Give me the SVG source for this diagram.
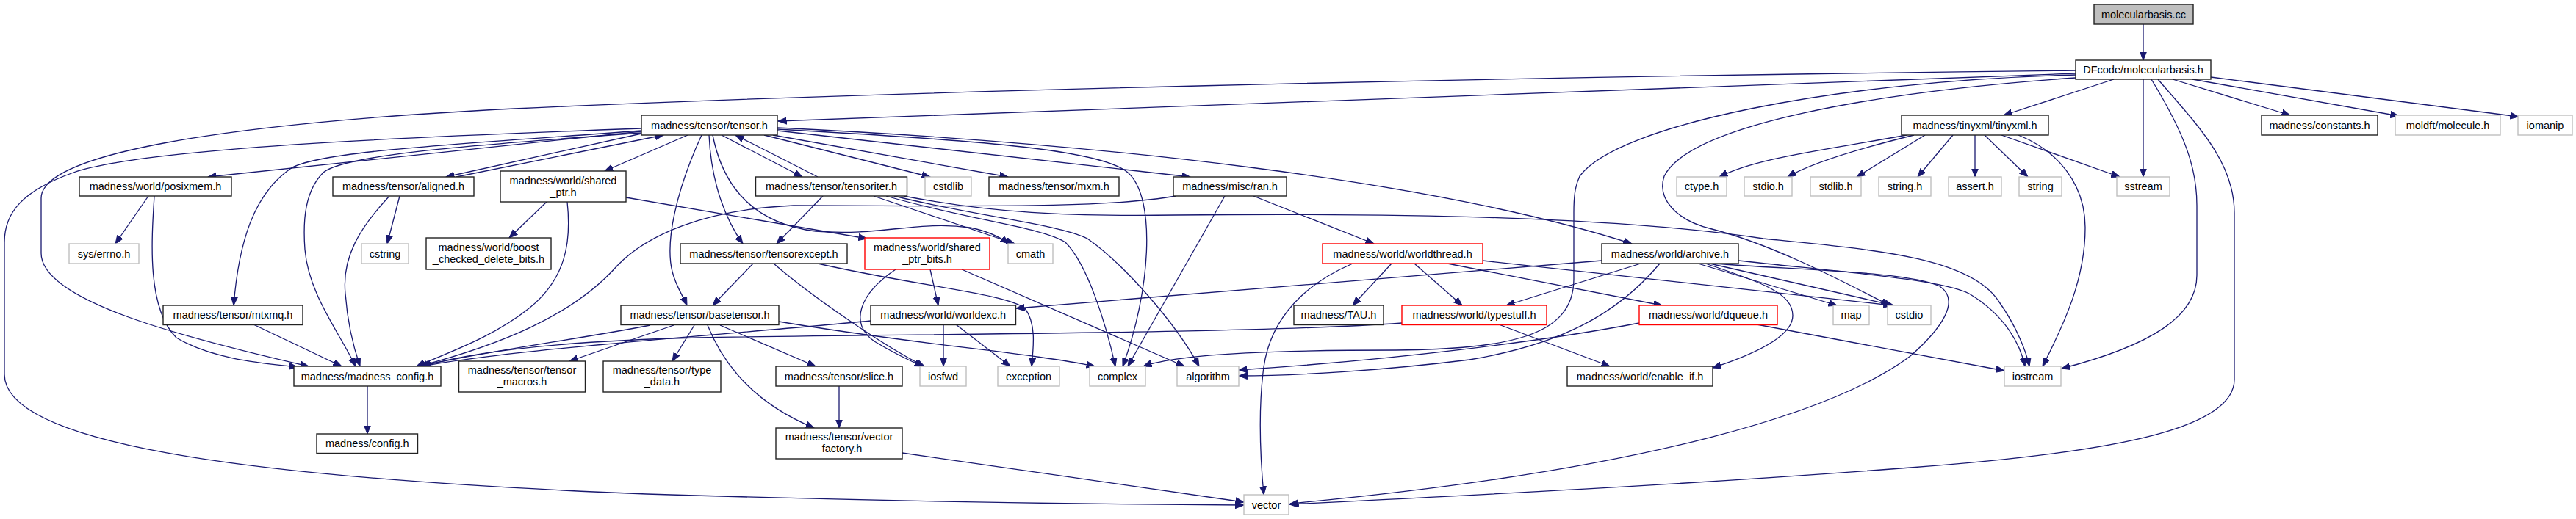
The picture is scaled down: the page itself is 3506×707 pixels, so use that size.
<svg xmlns="http://www.w3.org/2000/svg" width="3506" height="707" viewBox="0 0 3506 707">
<style>
rect{fill:#fff;stroke-width:1.4}
.nb rect{stroke:#222}
.ng rect{stroke:#bfbfbf}
.nr rect{stroke:#ff0000}
.root rect{fill:#bfbfbf;stroke:#222}
text{font-family:"Liberation Sans",Arial,sans-serif;font-size:14.5px;fill:#000;text-anchor:middle}
#edges path{fill:none;stroke:#191970;stroke-width:1.3;marker-end:url(#arr)}
</style>
<defs>
<marker id="arr" markerUnits="userSpaceOnUse" markerWidth="13" markerHeight="11" refX="11.5" refY="5" orient="auto">
<path d="M0,0.5 L11.5,5 L0,9.5 Z" fill="#191970" stroke="#191970" stroke-width="1"/>
</marker>
</defs>
<rect x="0" y="0" width="3506" height="707" style="fill:#fff;stroke:none"/>
<g id="edges">
<path d="M2917,33 L2917,82"/>
<path d="M2877,108 L2727,157"/>
<path d="M2917,108 L2917,241"/>
<path d="M2957,108 L3117,157"/>
<path d="M2984,108 L3265,158"/>
<path d="M3009,105 L3428,159"/>
<path d="M2928,108 C2975,185 2990,230 2990,280 L2990,375 C2990,430 2930,470 2806,502"/>
<path d="M2937,108 C2990,170 3041,220 3041,290 L3041,517 C3041,580 2900,615 2600,637 C2300,660 2000,675 1755,687"/>
<path d="M2825,100 L1059,165"/>
<path d="M2825,96 C2000,105 1200,125 700,148 C300,168 56,210 56,270 L56,345 C56,410 250,460 420,499"/>
<path d="M2825,102 C2500,110 2200,170 2150,240 C2143,255 2142,270 2142,290 L2142,380 C2142,460 2050,475 1900,477 C1760,477 1610,480 1556,499"/>
<path d="M2825,106 C2550,125 2300,170 2265,240 C2255,270 2280,300 2330,312 C2420,335 2520,390 2572,416"/>
<path d="M873,175 C600,185 200,200 100,235 C30,260 6,290 6,330 L6,510 C6,600 300,650 880,673 C1200,683 1500,687 1693,688"/>
<path d="M873,179 L283,241"/>
<path d="M873,182 L607,241"/>
<path d="M621,241 L903,184"/>
<path d="M936,184 L823,233"/>
<path d="M873,178 C650,195 430,205 395,230 C345,265 325,330 318,416"/>
<path d="M873,181 C650,197 470,210 440,235 C415,260 412,300 415,340 C420,400 460,450 484,499"/>
<path d="M982,184 L1092,241"/>
<path d="M1113,241 L1001,184"/>
<path d="M1040,184 L1266,241"/>
<path d="M1052,184 L1372,241"/>
<path d="M1058,178 L1620,241"/>
<path d="M1058,174 C1500,195 1950,245 2221,332"/>
<path d="M1058,176 C1350,192 1500,205 1535,235 C1575,270 1565,400 1528,499"/>
<path d="M965,184 C968,250 988,300 1011,332"/>
<path d="M955,184 C920,260 905,330 915,370 C920,390 928,400 935,416"/>
<path d="M970,184 C985,260 1030,305 1110,315 C1200,322 1250,300 1320,310 C1345,315 1360,322 1373,332"/>
<path d="M1120,267 L1057,332"/>
<path d="M1189,267 L1381,332"/>
<path d="M1206,267 C1320,300 1420,310 1450,330 C1480,360 1505,440 1518,499"/>
<path d="M1217,267 C1330,295 1440,305 1480,325 C1530,360 1600,440 1632,499"/>
<path d="M1230,267 C1350,290 1450,295 1600,293 C1900,290 2200,295 2400,325 C2550,340 2680,350 2720,410 C2745,445 2758,480 2762,499"/>
<path d="M1600,267 C1500,285 1300,280 1080,280 C960,285 880,320 840,362 C780,430 680,470 570,499"/>
<path d="M1667,267 L1535,499"/>
<path d="M1706,267 L1870,332"/>
<path d="M202,267 L157,332"/>
<path d="M210,267 C206,330 200,420 240,460 C290,490 360,495 405,500"/>
<path d="M544,267 L527,332"/>
<path d="M530,267 C490,310 465,350 470,400 C473,440 480,470 490,499"/>
<path d="M744,275 L693,324"/>
<path d="M772,275 C778,330 770,380 720,420 C670,460 610,480 567,499"/>
<path d="M852,269 L1180,325"/>
<path d="M1219,367 C1170,400 1155,440 1190,465 C1215,480 1235,490 1256,499"/>
<path d="M1266,367 L1277,416"/>
<path d="M1309,367 L1612,499"/>
<path d="M1025,359 L970,416"/>
<path d="M1053,359 C1100,400 1200,470 1258,499"/>
<path d="M1113,359 C1250,390 1370,400 1395,420 C1410,440 1407,470 1404,499"/>
<path d="M885,443 C800,460 650,480 572,499"/>
<path d="M917,443 L775,492"/>
<path d="M945,443 L915,492"/>
<path d="M963,443 C990,510 1040,555 1108,583"/>
<path d="M980,443 L1110,499"/>
<path d="M1060,438 C1250,470 1400,480 1490,499"/>
<path d="M1185,437 C1000,455 700,475 575,499"/>
<path d="M1284,442 L1284,499"/>
<path d="M1301,442 L1375,499"/>
<path d="M1894,359 L1841,416"/>
<path d="M1925,359 L1990,416"/>
<path d="M1970,359 L2262,416"/>
<path d="M2018,355 L2575,416"/>
<path d="M1841,359 C1780,385 1730,430 1720,500 C1712,560 1715,620 1720,674"/>
<path d="M1908,440 C1700,455 1200,455 950,460 C750,465 640,480 575,499"/>
<path d="M2040,442 L2191,499"/>
<path d="M2180,355 L1383,420"/>
<path d="M2233,359 L2050,416"/>
<path d="M2259,359 C2200,430 2120,470 2000,490 C1880,505 1760,512 1686,512"/>
<path d="M2311,359 L2500,416"/>
<path d="M2327,359 L2577,416"/>
<path d="M2321,359 C2400,385 2440,400 2440,430 C2440,460 2380,485 2331,501"/>
<path d="M2366,355 C2500,370 2640,380 2680,400 C2730,430 2750,470 2756,499"/>
<path d="M2332,359 C2450,368 2600,370 2640,390 C2670,410 2640,450 2600,485 C2500,560 2250,640 1756,686"/>
<path d="M2231,440 C2100,465 1900,490 1686,504"/>
<path d="M2391,442 L2728,505"/>
<path d="M2595,184 C2480,205 2390,215 2340,241"/>
<path d="M2605,184 C2520,205 2460,225 2433,241"/>
<path d="M2620,184 L2527,241"/>
<path d="M2658,184 L2610,241"/>
<path d="M2688,184 L2688,241"/>
<path d="M2701,184 L2760,241"/>
<path d="M2724,184 L2885,241"/>
<path d="M2747,184 C2800,205 2838,250 2838,310 C2838,380 2810,440 2780,499"/>
<path d="M345,442 L465,499"/>
<path d="M500,526 L500,591"/>
<path d="M1142,526 L1142,583"/>
<path d="M1228,617 L1693,684"/>
</g>
<g id="node-molecularbasis-cc" class="root"><rect x="2850" y="6" width="135" height="27"/><text x="2917.5" y="24.5">molecularbasis.cc</text></g>
<g id="node-dfcode" class="nb"><rect x="2825" y="82" width="184" height="26"/><text x="2917" y="100">DFcode/molecularbasis.h</text></g>
<g id="node-tensor" class="nb"><rect x="873" y="157" width="185" height="27"/><text x="965.5" y="175.5">madness/tensor/tensor.h</text></g>
<g id="node-tinyxml" class="nb"><rect x="2588" y="157" width="200" height="27"/><text x="2688" y="175.5">madness/tinyxml/tinyxml.h</text></g>
<g id="node-constants" class="nb"><rect x="3078" y="157" width="158" height="27"/><text x="3157" y="175.5">madness/constants.h</text></g>
<g id="node-molecule" class="ng"><rect x="3260" y="157" width="143" height="27"/><text x="3331.5" y="175.5">moldft/molecule.h</text></g>
<g id="node-iomanip" class="ng"><rect x="3427" y="157" width="74" height="27"/><text x="3464" y="175.5">iomanip</text></g>
<g id="node-posixmem" class="nb"><rect x="108" y="241" width="207" height="26"/><text x="211.5" y="259">madness/world/posixmem.h</text></g>
<g id="node-aligned" class="nb"><rect x="453" y="241" width="192" height="26"/><text x="549" y="259">madness/tensor/aligned.h</text></g>
<g id="node-shared-ptr" class="nb"><rect x="681" y="233" width="171" height="42"/><text x="766.5" y="250.5">madness/world/shared</text><text x="766.5" y="266.5">_ptr.h</text></g>
<g id="node-tensoriter" class="nb"><rect x="1028.5" y="241" width="206" height="26"/><text x="1131.5" y="259">madness/tensor/tensoriter.h</text></g>
<g id="node-cstdlib" class="ng"><rect x="1259" y="241" width="63" height="26"/><text x="1290.5" y="259">cstdlib</text></g>
<g id="node-mxm" class="nb"><rect x="1346" y="241" width="177" height="26"/><text x="1434.5" y="259">madness/tensor/mxm.h</text></g>
<g id="node-ran" class="nb"><rect x="1597" y="241" width="154" height="26"/><text x="1674" y="259">madness/misc/ran.h</text></g>
<g id="node-ctype" class="ng"><rect x="2282" y="241" width="68" height="26"/><text x="2316" y="259">ctype.h</text></g>
<g id="node-stdio" class="ng"><rect x="2374" y="241" width="65" height="26"/><text x="2406.5" y="259">stdio.h</text></g>
<g id="node-stdlib" class="ng"><rect x="2464" y="241" width="69" height="26"/><text x="2498.5" y="259">stdlib.h</text></g>
<g id="node-string-h" class="ng"><rect x="2557" y="241" width="71" height="26"/><text x="2592.5" y="259">string.h</text></g>
<g id="node-assert" class="ng"><rect x="2652" y="241" width="72" height="26"/><text x="2688" y="259">assert.h</text></g>
<g id="node-string" class="ng"><rect x="2748" y="241" width="58" height="26"/><text x="2777" y="259">string</text></g>
<g id="node-sstream" class="ng"><rect x="2881" y="241" width="72" height="26"/><text x="2917" y="259">sstream</text></g>
<g id="node-errno" class="ng"><rect x="94" y="332" width="95" height="27"/><text x="141.5" y="350.5">sys/errno.h</text></g>
<g id="node-cstring" class="ng"><rect x="492" y="332" width="64" height="27"/><text x="524" y="350.5">cstring</text></g>
<g id="node-boost" class="nb"><rect x="580" y="324" width="170" height="43"/><text x="665" y="342">madness/world/boost</text><text x="665" y="358">_checked_delete_bits.h</text></g>
<g id="node-tensorexcept" class="nb"><rect x="926" y="332" width="227" height="27"/><text x="1039.5" y="350.5">madness/tensor/tensorexcept.h</text></g>
<g id="node-shared-ptr-bits" class="nr"><rect x="1177" y="324" width="170" height="43"/><text x="1262" y="342">madness/world/shared</text><text x="1262" y="358">_ptr_bits.h</text></g>
<g id="node-cmath" class="ng"><rect x="1372" y="332" width="61" height="27"/><text x="1402.5" y="350.5">cmath</text></g>
<g id="node-worldthread" class="nr"><rect x="1800" y="332" width="218" height="27"/><text x="1909" y="350.5">madness/world/worldthread.h</text></g>
<g id="node-archive" class="nb"><rect x="2180" y="332" width="186" height="27"/><text x="2273" y="350.5">madness/world/archive.h</text></g>
<g id="node-mtxmq" class="nb"><rect x="222" y="416" width="190" height="26.5"/><text x="317" y="434">madness/tensor/mtxmq.h</text></g>
<g id="node-basetensor" class="nb"><rect x="845" y="416" width="215" height="26.5"/><text x="952.5" y="434">madness/tensor/basetensor.h</text></g>
<g id="node-worldexc" class="nb"><rect x="1185" y="416" width="197.5" height="26.5"/><text x="1283.75" y="434">madness/world/worldexc.h</text></g>
<g id="node-tau" class="nb"><rect x="1761" y="416" width="122" height="26.5"/><text x="1822" y="434">madness/TAU.h</text></g>
<g id="node-typestuff" class="nr"><rect x="1908" y="416" width="197" height="26.5"/><text x="2006.5" y="434">madness/world/typestuff.h</text></g>
<g id="node-dqueue" class="nr"><rect x="2231" y="416" width="188" height="26.5"/><text x="2325" y="434">madness/world/dqueue.h</text></g>
<g id="node-map" class="ng"><rect x="2495" y="416" width="49" height="26.5"/><text x="2519.5" y="434">map</text></g>
<g id="node-cstdio" class="ng"><rect x="2569" y="416" width="59" height="26.5"/><text x="2598.5" y="434">cstdio</text></g>
<g id="node-madness-config" class="nb"><rect x="400" y="499" width="200" height="27"/><text x="500" y="517.5">madness/madness_config.h</text></g>
<g id="node-tensor-macros" class="nb"><rect x="624.5" y="492" width="172" height="42"/><text x="710.5" y="509">madness/tensor/tensor</text><text x="710.5" y="525">_macros.h</text></g>
<g id="node-type-data" class="nb"><rect x="821" y="492" width="160" height="42"/><text x="901" y="509">madness/tensor/type</text><text x="901" y="525">_data.h</text></g>
<g id="node-slice" class="nb"><rect x="1056" y="499" width="172" height="27"/><text x="1142" y="517.5">madness/tensor/slice.h</text></g>
<g id="node-iosfwd" class="ng"><rect x="1252" y="499" width="63" height="27"/><text x="1283.5" y="517.5">iosfwd</text></g>
<g id="node-exception" class="ng"><rect x="1358" y="499" width="84" height="27"/><text x="1400" y="517.5">exception</text></g>
<g id="node-complex" class="ng"><rect x="1483" y="499" width="76" height="27"/><text x="1521" y="517.5">complex</text></g>
<g id="node-algorithm" class="ng"><rect x="1602" y="499" width="84" height="27"/><text x="1644" y="517.5">algorithm</text></g>
<g id="node-enable-if" class="nb"><rect x="2133" y="499" width="198" height="27"/><text x="2232" y="517.5">madness/world/enable_if.h</text></g>
<g id="node-iostream" class="ng"><rect x="2728" y="499" width="77" height="27"/><text x="2766.5" y="517.5">iostream</text></g>
<g id="node-config" class="nb"><rect x="431" y="591" width="137.5" height="26.5"/><text x="499.75" y="609">madness/config.h</text></g>
<g id="node-vector-factory" class="nb"><rect x="1056" y="583" width="172" height="42"/><text x="1142" y="600">madness/tensor/vector</text><text x="1142" y="616">_factory.h</text></g>
<g id="node-vector" class="ng"><rect x="1693" y="674" width="61" height="27"/><text x="1723.5" y="692.5">vector</text></g>
</svg>
